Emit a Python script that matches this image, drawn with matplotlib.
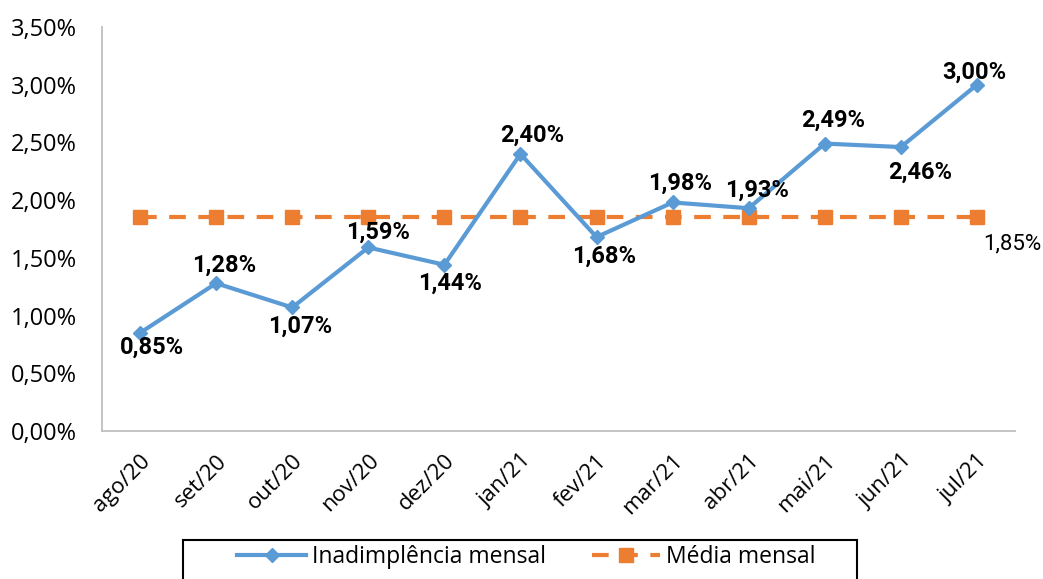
import matplotlib
matplotlib.use("Agg")
import matplotlib.pyplot as plt
from matplotlib.ticker import FuncFormatter
from matplotlib.patches import Rectangle

months = ["ago/20", "set/20", "out/20", "nov/20", "dez/20", "jan/21",
          "fev/21", "mar/21", "abr/21", "mai/21", "jun/21", "jul/21"]
inadimplencia = [0.85, 1.28, 1.07, 1.59, 1.44, 2.40, 1.68, 1.98, 1.93, 2.49, 2.46, 3.00]
media = [1.85] * 12
label_offsets = [(12, -14), (8, 18), (8, -19), (10, 15), (6, -18), (12, 19),
                 (8, -19), (7, 19), (8, 18), (8, 23), (19, -25), (-3, 12)]

blue = "#5B9BD5"
orange = "#ED7D31"

fig = plt.figure(figsize=(10.43, 5.79), dpi=100)
ax = fig.add_axes([102/1043, 1-431/579, (1015-102)/1043, (431-27)/579])

x = list(range(len(months)))
ax.plot(x, inadimplencia, color=blue, lw=3, marker="D", markersize=7.5,
        label="Inadimplência mensal", zorder=3)
ax.plot(x, media, color=orange, lw=3, ls=(0, (4, 3)), marker="s", markersize=9.5,
        label="Média mensal", zorder=2)

ax.set_xlim(-0.5, len(months) - 0.5)
ax.set_ylim(0, 3.5)
ax.set_yticks([0, 0.5, 1.0, 1.5, 2.0, 2.5, 3.0, 3.5])
ax.yaxis.set_major_formatter(FuncFormatter(lambda v, p: f"{v:.2f}%".replace(".", ",")))
ax.set_xticks(x)
ax.set_xticklabels(months, rotation=45, ha="right", rotation_mode="anchor")

for s in ["top", "right"]:
    ax.spines[s].set_visible(False)
for s in ["left", "bottom"]:
    ax.spines[s].set_color("#BFBFBF")
    ax.spines[s].set_linewidth(1.3)
ax.tick_params(axis="y", length=0, labelsize=17, colors="#000000", pad=18)
ax.tick_params(axis="x", length=0, labelsize=16, colors="#000000", pad=14)
for lbl in ax.get_xticklabels() + ax.get_yticklabels():
    lbl.set_fontfamily("Open Sans")

lab_font = dict(fontfamily="Roboto", fontweight="bold", fontsize=17, color="black")
for xi, v, off in zip(x, inadimplencia, label_offsets):
    ax.annotate(f"{v:.2f}%".replace(".", ","), (xi, v), xytext=off,
                textcoords="offset pixels", ha="center", va="center", **lab_font)
ax.annotate(f"{media[-1]:.2f}%".replace(".", ","), (x[-1], media[-1]), xytext=(35, -26),
            textcoords="offset pixels", ha="center", va="center",
            fontfamily=["Liberation Sans Narrow", "Roboto"], fontsize=16, color="black")

leg = fig.legend(loc="center", bbox_to_anchor=(526.5/1043, 1-557/579),
                 bbox_transform=fig.transFigure, ncol=2, frameon=False,
                 prop={"family": "Open Sans", "size": 16.5},
                 handlelength=3.0, handletextpad=0.25, columnspacing=2.0, borderpad=0)
fig.patches.append(Rectangle((183/1043, -0.05), 674/1043, (579-540)/579 + 0.05,
                             transform=fig.transFigure, fill=False,
                             edgecolor="black", linewidth=1.5))

fig.savefig("out.png", dpi=100)
